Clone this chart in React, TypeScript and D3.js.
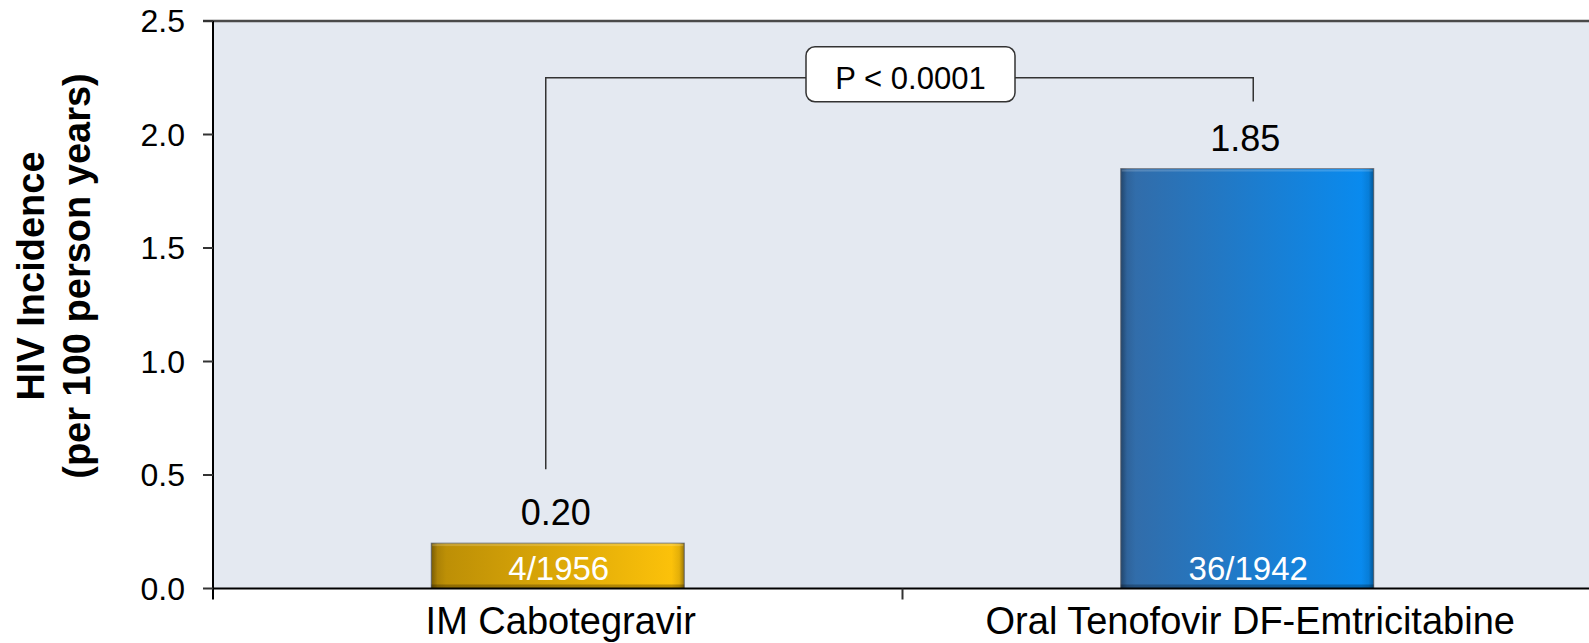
import React from "react";
import * as d3 from "d3";

const categories = ["IM Cabotegravir", "Oral Tenofovir DF-Emtricitabine"];
const incidence = [0.2, 1.85];
const valueLabels = ["0.20", "1.85"];
const countLabels = ["4/1956", "36/1942"];
const yTicks = [0, 0.5, 1.0, 1.5, 2.0, 2.5];
const yTitle = ["HIV Incidence", "(per 100 person years)"];
const pLabel = "P < 0.0001";
// bracket levels in data units: left foot, top, right foot
const bracketLeftFoot = 0.525;
const bracketTop = 2.25;
const bracketRightFoot = 2.145;

const W = 1589;
const H = 643;
const left = 213;
const right = 1592;
const top = 21;
const bottom = 588.5;

const gradients = [
  { id: "gGold", from: "#b98c06", to: "#ffc40a" },
  { id: "gBlue", from: "#346ba6", to: "#078cf2" },
];

export default function App() {
  const x = d3.scaleBand<string>().domain(categories).range([left, right]).paddingInner(0.633).paddingOuter(0.3165);
  const y = d3.scaleLinear().domain([0, 2.5]).range([bottom, top]);
  const step = x.step();
  const font = "Arial, 'Liberation Sans', Helvetica, sans-serif";

  const c0 = x(categories[0])! + x.bandwidth() / 2;
  const c1 = x(categories[1])! + x.bandwidth() / 2;
  const bx0 = c0 - 12;
  const bx1 = c1 + 6;
  const by = y(bracketTop);
  const boxW = 209;
  const boxH = 55;
  const boxCx = (bx0 + bx1) / 2 + 11;

  return (
    <svg width={W} height={H} style={{ position: "absolute", left: 0, top: 0 }} fontFamily={font}>
      <defs>
        {gradients.map((g) => (
          <linearGradient key={g.id} id={g.id} x1="0" x2="1" y1="0" y2="0">
            <stop offset="0" stopColor={g.from} />
            <stop offset="1" stopColor={g.to} />
          </linearGradient>
        ))}
        <linearGradient id="bevelH" x1="0" x2="1" y1="0" y2="0">
          <stop offset="0" stopColor="#000" stopOpacity="0.35" />
          <stop offset="0.025" stopColor="#000" stopOpacity="0.08" />
          <stop offset="0.06" stopColor="#000" stopOpacity="0" />
          <stop offset="0.95" stopColor="#000" stopOpacity="0" />
          <stop offset="0.98" stopColor="#000" stopOpacity="0.1" />
          <stop offset="1" stopColor="#000" stopOpacity="0.4" />
        </linearGradient>
      </defs>
      <rect x={left} y={top} width={right - left} height={bottom - top} fill="#e4e9f1" />
      {/* top border */}
      <line x1={203} x2={W} y1={top} y2={top} stroke="#4a4a4a" strokeWidth={2.5} />
      {/* bars */}
      {categories.map((c, i) => {
        const bx = x(c)!;
        const bw = x.bandwidth();
        const yt = y(incidence[i]);
        const bh = y(0) - yt;
        return (
          <g key={c}>
            <rect x={bx} y={yt} width={bw} height={bh} fill={`url(#${gradients[i].id})`} stroke="#7f8590" strokeWidth={1} />
            <rect x={bx} y={yt} width={bw} height={bh} fill="url(#bevelH)" />
            <rect x={bx + 1} y={yt + 1} width={bw - 2} height={2} fill="#fff" opacity={0.18} />
            <rect x={bx} y={y(0) - 4} width={bw} height={4} fill="#000" opacity={0.25} />
            <text x={bx + bw / 2 + 1} y={y(0) - 9} textAnchor="middle" fontSize={33} fill="#fff">
              {countLabels[i]}
            </text>
            <text x={bx + bw / 2 - 2} y={yt - 18} textAnchor="middle" fontSize={36} fill="#000">
              {valueLabels[i]}
            </text>
          </g>
        );
      })}
      {/* bracket */}
      <path
        d={`M${bx0},${y(bracketLeftFoot)}V${by}H${bx1}V${y(bracketRightFoot)}`}
        fill="none"
        stroke="#333"
        strokeWidth={1.5}
      />
      <rect x={boxCx - boxW / 2} y={by - 31} width={boxW} height={boxH} rx={9} fill="#fff" stroke="#333" strokeWidth={1.5} />
      <text x={boxCx} y={by + 11} textAnchor="middle" fontSize={31} fill="#000">
        {pLabel}
      </text>
      {/* y axis */}
      <line x1={left} x2={left} y1={top} y2={bottom + 11} stroke="#000" strokeWidth={2} />
      {yTicks.map((t) => (
        <g key={t}>
          <line x1={203} x2={left} y1={y(t)} y2={y(t)} stroke="#333" strokeWidth={2} />
          <text x={185} y={y(t) + 11} textAnchor="end" fontSize={32} fill="#000">
            {t.toFixed(1)}
          </text>
        </g>
      ))}
      {/* x axis */}
      <line x1={left} x2={W} y1={bottom} y2={bottom} stroke="#000" strokeWidth={2} />
      {categories.map((c, i) => {
        const bx = x(c)! + x.bandwidth() / 2;
        return (
          <g key={c}>
            {i > 0 && <line x1={bx - step / 2} x2={bx - step / 2} y1={bottom} y2={bottom + 11} stroke="#333" strokeWidth={2} />}
            <text x={bx + 3} y={bottom + 45} textAnchor="middle" fontSize={38} fill="#000">
              {c}
            </text>
          </g>
        );
      })}
      {/* y title */}
      <g transform={`translate(0,276) rotate(-90)`}>
        <text x={0} y={44} textAnchor="middle" fontSize={38} fontWeight="bold" fill="#000">
          {yTitle[0]}
        </text>
        <text x={0} y={90} textAnchor="middle" fontSize={38} fontWeight="bold" fill="#000">
          {yTitle[1]}
        </text>
      </g>
    </svg>
  );
}
